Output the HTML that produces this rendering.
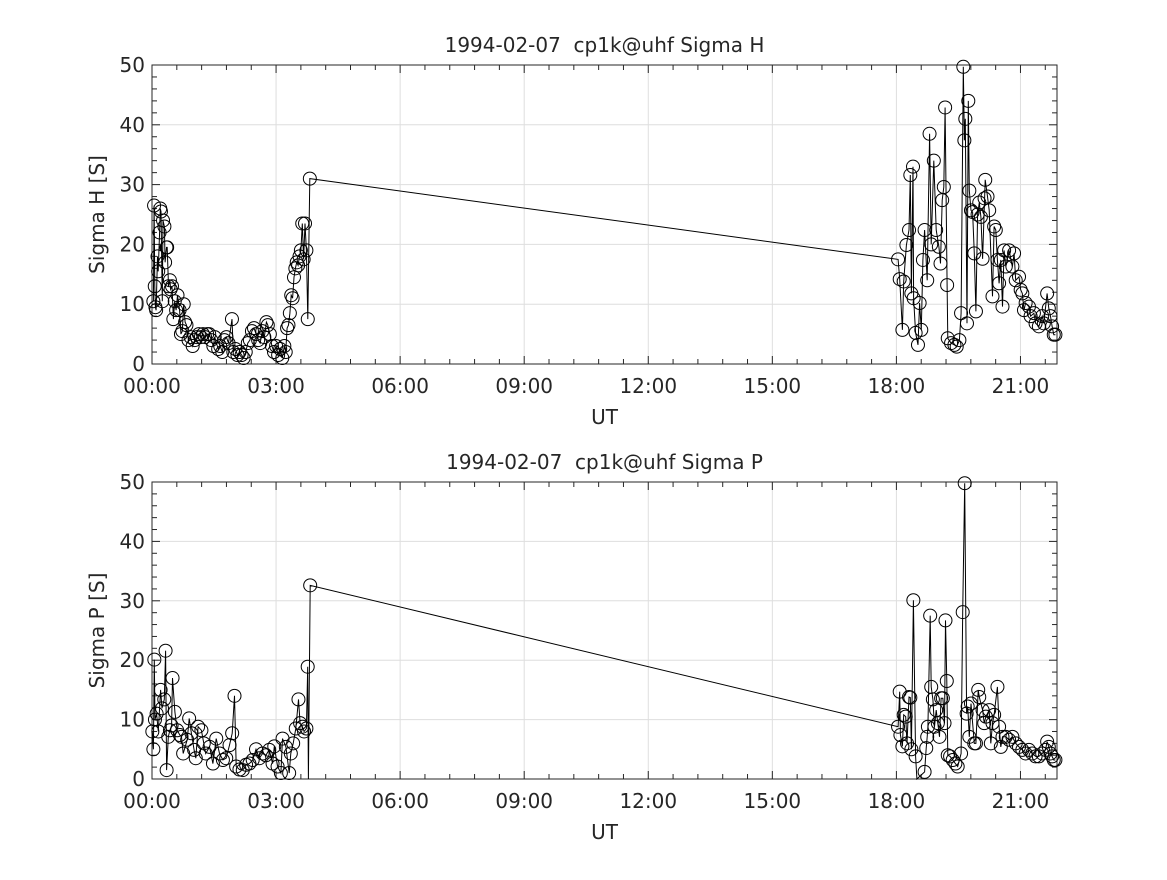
<!DOCTYPE html>
<html><head><meta charset="utf-8"><style>
body{margin:0;background:#fff;width:1167px;height:875px;overflow:hidden}
svg text{font-family:"DejaVu Sans","Liberation Sans",sans-serif;fill:#262626;white-space:pre}
</style></head><body>
<svg id="chart" width="1167" height="875" viewBox="0 0 1167 875"></svg>
<script>
const hTimes=[2,3,4,5,6,8,9,11,12,13,15,16,18,19,21,22,24,26,27,29,31,33,35,37,40,42,44,46,48,50,53,56,59,62,65,68,71,74,77,80,83,86,89,91,96,99,102,105,108,111,116,118,121,124,127,130,133,136,139,142,145,148,151,154,157,160,163,166,168,171,174,177,180,183,186,189,192,194,196,198,200,202,204,206,208,210,212,214,216,218,220,222,224,226,229,
1082.4,1084.8,1088.7,1090.6,1094.5,1098.3,1100.2,1101.7,1104.1,1105,1107.9,1111.3,1113.7,1116.1,1118.5,1120.9,1124.7,1128.1,1130.5,1134.3,1137.7,1141.6,1144,1146.4,1148.8,1150.7,1153.6,1154.5,1159.3,1164.2,1167.5,1171.4,1173.8,1177.1,1178.6,1180,1182.4,1184.3,1185.8,1188.2,1190.6,1193,1195.4,1197.8,1200.2,1202.6,1205,1207.9,1208.9,1212.2,1214.6,1219.4,1221.8,1224.2,1226.6,1229,1231.5,1233.9,1236.3,1238.7,1243.5,1248.3,1250.7,1253.1,1257.9,1260.3,1262.7,1265.1,1267.5,1272.3,1274.7,1279.5,1281.9,1286.7,1291.5,1293.9,1298.7,1301.1,1303.5,1305.9,1308.3,1310.7];
const hValues=[10.5,26.5,13,9.5,9,18,15.5,22,26,25.5,10.5,24,23,17,19.5,19.5,13,14,12.5,13,7.5,10.5,9,11.5,9,5,5.5,10,7,6.5,4,4.5,3,4,4.5,5,4.5,5,4.5,5,5,4,3,4.5,2.5,3,2,4,4.5,3.5,7.5,2,2.5,1.5,2,1.5,1,2,3.5,4,5.5,6,5,4,3.5,5.5,4.5,7,6.5,5,3,2,3,1.5,2.5,1,3,2,6,6.5,8.5,11.5,11,14.5,16,17,16.5,18,19,23.5,17.5,23.5,19,7.5,31,
17.5,14.2,5.7,13.8,19.9,22.4,31.6,11.8,33,11,5.2,3.2,10.2,5.7,17.4,22.4,14,38.5,20,34,22.4,19.6,16.8,27.4,29.6,42.9,13.2,4.3,3.5,3.2,2.9,4,8.5,49.7,37.4,41,6.8,44,29,25.7,25.4,18.5,8.8,25,27,24.6,17.6,27.7,30.8,28,25.7,11.3,23,22.4,17.4,13.5,17.4,9.6,19,16.3,19,16.3,18.5,14,14.6,12.4,11.8,9,10.2,9.6,8,8.5,6.8,6.3,8,6.8,11.8,9.3,8,6.3,4.9,4.9];
const pTimes=[0.5,2,3.4,4.3,6.7,9.2,12.5,14.5,17.8,19.7,21.2,23.6,26,28.4,29.8,33.2,36.5,40.4,42.8,45.2,51,53.9,57.2,61.1,63.5,66.9,71.7,75.1,77.9,83.6,88.4,93.2,98,102.9,107.7,112.5,116.3,119.7,122.1,126.9,131.7,136.5,141.3,146.1,150.9,155.7,160.5,165.3,170.1,174.9,177.4,182.2,187,189.4,194.2,199,201.4,204.8,208.6,212.5,214.9,218.2,220.6,224,225.9,226.9,229.5,
1082.4,1084.8,1085.8,1088.7,1090.6,1093.5,1095.4,1098.3,1100.2,1101.7,1104.6,1107.9,1109.8,1120.9,1123.3,1124.7,1125.7,1129,1130.5,1132.9,1135.3,1137.7,1140.1,1142.5,1144.9,1147.4,1149.8,1151.2,1153.1,1154.5,1157.9,1161.7,1165.6,1168.9,1173.8,1176.2,1179.1,1181.9,1183.4,1185.8,1188.2,1193,1195.4,1198.7,1200.2,1205,1207.4,1209.8,1214.6,1217,1219.4,1221.8,1226.6,1229,1231.5,1233.9,1238.7,1243.5,1248.3,1253.1,1257.9,1262.7,1267.5,1272.3,1277.1,1281.9,1286.7,1291.5,1296.3,1298.7,1301.1,1303.5,1305.9,1308.3,1310.7];
const pValues=[8,5,20.1,10,11,8,15,11.9,13.4,21.6,1.5,7.1,8.2,9,17,11.3,8.2,7.4,7.1,4.3,6.6,10.2,7.7,4.9,3.5,8.8,8.2,6,4.3,5.4,2.6,6.8,4.3,3.2,3.5,5.7,7.7,14,2.1,1.6,1.5,2.4,2.6,3.2,5,3.5,4.3,4,4.9,2.6,5.5,2.1,1,6.8,5.4,1,4.3,6,8.5,13.4,9.4,8.8,8,8.5,18.9,0,32.6,
8.8,14.7,7.4,5.5,10.8,10.5,6,13.8,13.7,5,30.1,3.8,0,1.2,5.2,7.1,8.8,27.5,15.5,13.4,8.8,11.6,9.4,7.1,13.6,13.6,9.4,26.7,16.5,4,3.8,3.2,2.6,2.1,4.3,28.1,49.8,11,12.2,7.1,12.7,6,6,15,13.8,11.6,9.4,10.5,11.6,6,9.4,10.8,15.5,8.8,5.4,7.1,7.1,6.6,7.1,6,5.4,4.9,4.3,4.9,4.3,3.8,3.8,4.3,4.9,6.3,5.4,4.3,3.8,3.2,3.2];
const xTickLabels=["00:00","03:00","06:00","09:00","12:00","15:00","18:00","21:00"];
const yTickLabels=["0","10","20","30","40","50"];

const NS="http://www.w3.org/2000/svg";
const svg=document.getElementById('chart');
function mk(tag,attrs,parent){const e=document.createElementNS(NS,tag);for(const k in attrs)e.setAttribute(k,attrs[k]);(parent||svg).appendChild(e);return e;}
const X0=152,X1=1057,XMAX=1313;
function xs(m){return X0+m/XMAX*(X1-X0);}

function panel(top,bottom,title,ylab,times,vals,key){
  const g=mk('g',{});
  
  
  const ys=v=>bottom-v/50*(bottom-top);
  for(let i=1;i<xTickLabels.length;i++){const x=xs(i*180);const l=mk('line',{x1:x,x2:x,y1:top,y2:bottom,stroke:'#dedede','stroke-width':1},g);
    }
  for(let i=1;i<5;i++){const y=ys(i*10);const l=mk('line',{x1:X0,x2:X1,y1:y,y2:y,stroke:'#dedede','stroke-width':1},g);
    }
  for(let m=0;m<=XMAX;m+=36){const x=xs(m);const big=m%180===0;const L=big?8:5;
    mk('line',{x1:x,x2:x,y1:bottom,y2:bottom-L,stroke:'#262626'},g);mk('line',{x1:x,x2:x,y1:top,y2:top+L,stroke:'#262626'},g);}
  for(let v=0;v<=50;v+=2){const y=ys(v);const L=v%10===0?8:5;
    mk('line',{x1:X0,x2:X0+L,y1:y,y2:y,stroke:'#262626'},g);mk('line',{x1:X1,x2:X1-L,y1:y,y2:y,stroke:'#262626'},g);}
  const box=mk('rect',{x:X0,y:top,width:X1-X0,height:bottom-top,fill:'none',stroke:'#262626','stroke-width':1},g);
  
  xTickLabels.forEach((t,i)=>{const e=mk('text',{x:xs(i*180),y:bottom+29,'text-anchor':'middle','font-size':20},g);e.textContent=t;
    });
  yTickLabels.forEach((t,i)=>{const e=mk('text',{x:X0-7,y:ys(i*10)+7,'text-anchor':'end','font-size':20},g);e.textContent=t;
    });
  const ti=mk('text',{x:(X0+X1)/2,y:top-13,'text-anchor':'middle','font-size':20},g);ti.textContent=title;
  
  const xl=mk('text',{x:(X0+X1)/2,y:bottom+60,'text-anchor':'middle','font-size':20},g);xl.textContent='UT';
  
  const yc=(top+bottom)/2;
  const yl=mk('text',{x:104,y:yc,'text-anchor':'middle','font-size':20,transform:`rotate(-90 104 ${yc})`},g);yl.textContent=ylab;
  
  const pts=times.map((t,i)=>xs(t).toFixed(1)+','+ys(vals[i]).toFixed(1)).join(' ');
  const pl=mk('polyline',{points:pts,fill:'none',stroke:'#000','stroke-width':1},g);
  
  times.forEach((t,i)=>{if(vals[i]<=0)return;const c=mk('circle',{cx:xs(t),cy:ys(vals[i]),r:6.5,fill:'none',stroke:'#000','stroke-width':1},g);
    });
}
panel(65,364,'1994-02-07  cp1k@uhf Sigma H','Sigma H [S]',hTimes,hValues,'sigma-h');
panel(482,779,'1994-02-07  cp1k@uhf Sigma P','Sigma P [S]',pTimes,pValues,'sigma-p');
</script>
</body></html>
